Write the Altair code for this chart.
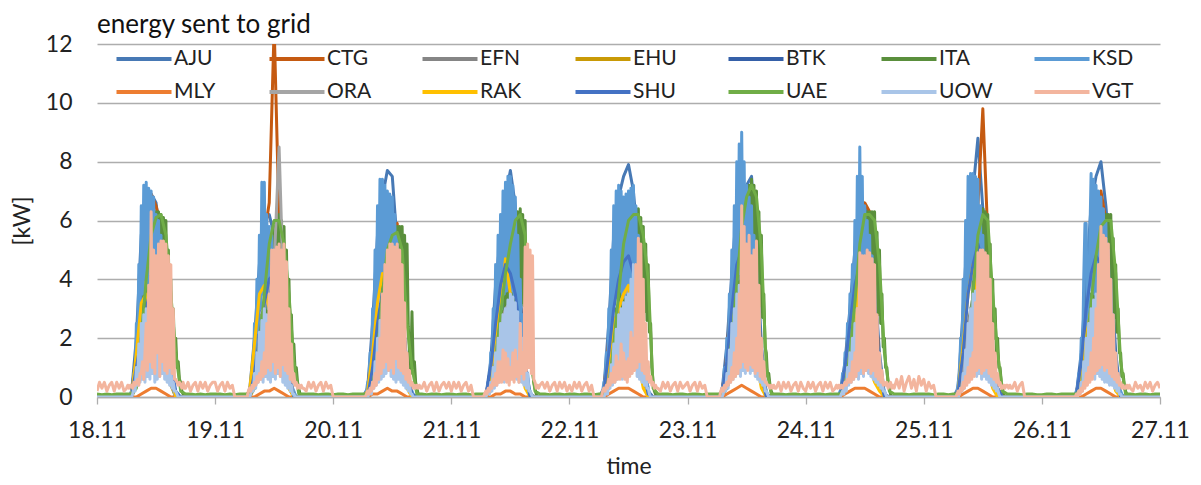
import altair as alt
import pandas as pd

FONT = "Lato"

# Series in legend / drawing order
names = ["AJU", "CTG", "EFN", "EHU", "BTK", "ITA", "KSD",
         "MLY", "ORA", "RAK", "SHU", "UAE", "UOW", "VGT"]
colors = ["#4779B5", "#C55A11", "#858585", "#C99A06", "#3560A8", "#5A8F3C", "#5B9BD5",
          "#ED7D31", "#A5A5A5", "#FFC000", "#4472C4", "#70AD47", "#A9C5E8", "#F3B59E"]

days = ["2019-11-18", "2019-11-19", "2019-11-20", "2019-11-21", "2019-11-22",
        "2019-11-23", "2019-11-24", "2019-11-25", "2019-11-26"]
tick_days = [18, 19, 20, 21, 22, 23, 24, 25, 26, 27]

# Daytime kW readings from 06:00 to 18:00, one string per day.
# 13 values = hourly, 49 values = every 15 minutes ("|" marks each hour).
AJU = ["0 0.1 2.0 5.5 6.8 6.9 6.6 5.2 2.0 0.5 0 0 0",
       "0 0.2 2.0 4.5 6.0 6.2 5.5 4.0 2.0 0.5 0 0 0",
       "0 0.3 2.5 5.5 6.8 7.7 7.5 5.2 3.0 1.0 0 0 0",
       "0 0 1.2 3.8 5.5 6.8 7.7 6.5 3.5 1.0 0 0 0",
       "0 0.3 2.5 5.5 6.8 7.5 7.9 7.0 5.0 1.8 0.2 0 0",
       "0 0.2 1.8 4.2 6.5 7.0 7.2 7.5 5.0 1.8 0.1 0 0",
       "0 0.1 1.2 3.0 5.0 6.8 6.5 6.0 4.0 1.5 0.1 0 0",
       "0 0.3 3.0 6.0 7.0 8.8 6.4 4.5 1.5 0.3 0 0 0",
       "0 0.1 1.5 4.0 6.5 7.5 8.0 6.5 4.5 1.5 0.1 0 0"]
CTG = ["0 0 1.2 4.5 6.0 6.9 6.5 5.8 3.0 0.8 0 0 0",
       "0 0.1 1.5 3.5 5.5 6.6 12.6 6.0 2.5 0.6 0 0 0",
       "0 0.2 2.0 4.0 5.5 6.5 5.8 5.9 3.0 0.8 0 0 0",
       "0 0 0.8 3.0 4.8 6.0 5.8 5.0 3.2 1.0 0 0 0",
       "0 0.2 2.0 4.5 5.8 6.2 6.0 5.5 3.5 1.0 0 0 0",
       "0 0.1 1.5 3.8 5.5 6.5 6.8 6.0 4.0 1.2 0 0 0",
       "0 0.1 1.0 2.8 4.5 5.8 6.6 6.3 3.5 1.2 0 0 0",
       "0 0.2 2.0 4.5 6.0 6.5 9.8 5.5 1.5 0.3 0 0 0",
       "0 0.1 1.0 3.0 5.0 6.2 7.0 6.0 3.5 1.0 0 0 0"]
EFN = ["0 0 0.8 2.0 3.0 3.5 3.5 3.0 2.0 0.8 0 0 0",
       "0 0 0.6 1.8 2.8 3.4 3.6 3.2 2.0 0.7 0 0 0",
       "0 0.1 1.0 2.4 3.4 3.8 3.6 3.0 1.8 0.6 0 0 0",
       "0 0 0.5 1.5 2.6 3.2 3.4 3.0 2.2 0.8 0 0 0",
       "0 0.1 0.9 2.2 3.2 3.7 3.8 3.3 2.3 0.9 0.1 0 0",
       "0 0.1 0.8 2.1 3.3 3.9 4.0 3.5 2.4 0.9 0 0 0",
       "0 0 0.6 1.6 2.8 3.4 3.6 3.2 2.2 0.8 0 0 0",
       "0 0.1 1.0 2.5 3.4 3.6 3.2 2.5 1.0 0.2 0 0 0",
       "0 0 0.7 1.9 3.0 3.5 3.6 3.1 2.0 0.7 0 0 0"]
EHU = ["0 0 0.4 1.2 2.0 2.4 2.4 2.0 1.2 0.4 0 0 0",
       "0 0 0.3 1.0 1.8 2.2 2.3 1.9 1.1 0.3 0 0 0",
       "0 0 0.5 1.3 2.1 2.5 2.4 2.0 1.2 0.4 0 0 0",
       "0 0 0.3 0.9 1.6 2.1 2.3 2.0 1.3 0.5 0 0 0",
       "0 0 0.4 1.2 2.0 2.5 2.6 2.2 1.4 0.5 0 0 0",
       "0 0 0.4 1.1 2.0 2.6 2.7 2.3 1.5 0.5 0 0 0",
       "0 0 0.3 1.0 1.8 2.3 2.4 2.1 1.3 0.4 0 0 0",
       "0 0 0.5 1.4 2.2 2.4 2.1 1.5 0.6 0.1 0 0 0",
       "0 0 0.3 1.0 1.9 2.3 2.4 2.0 1.2 0.4 0 0 0"]
BTK = ["0 0.1 1.5 3.5 5.0 5.5 5.2 4.5 3.0 1.0 0.1 0 0",
       "0 0.1 1.2 3.0 4.6 5.2 5.0 4.2 2.6 0.8 0 0 0",
       "0 0.2 1.8 3.8 5.2 5.8 5.5 4.6 3.0 1.0 0.1 0 0",
       "0 0 1.0 2.8 4.4 5.4 5.6 4.8 3.2 1.2 0.1 0 0",
       "0 0.2 1.6 3.6 5.0 5.8 6.0 5.2 3.6 1.4 0.1 0 0",
       "0 0.1 1.4 3.4 5.2 6.2 6.0 5.4 3.5 1.3 0.1 0 0",
       "0 0.1 1.0 2.6 4.2 5.4 5.6 5.0 3.2 1.1 0 0 0",
       "0 0.2 2.0 4.5 5.6 6.0 6.4 4.0 1.2 0.2 0 0 0",
       "0 0.1 1.2 3.2 5.0 5.8 6.0 5.0 4.5 1.0 0 0 0"]
ITA = ["0 0 0 0 | 0 0.1 0.2 0.3 | 0.5 0.4 1.5 0.9 | 2.5 1.4 3.5 2.0 | 4.5 2.4 5.3 2.8 | 6.0 3.0 6.2 3.2 | 6.3 3.2 6.3 3.1 | 6.2 3.0 6.1 3.1 | 6.0 3.0 5.0 2.6 | 4.0 2.0 3.0 1.5 | 2.0 1.0 1.2 0.6 | 0.5 0.2 0.1 0 | 0",
       "0 0 0 0 | 0 0.1 0.2 0.3 | 0.5 0.4 1.2 0.8 | 2.0 1.1 2.8 1.5 | 3.5 1.8 4.2 2.2 | 5.0 2.6 5.4 2.8 | 5.8 3.0 6.0 3.1 | 6.2 3.1 6.0 3.0 | 5.8 2.9 5.0 2.5 | 4.0 2.0 2.8 1.4 | 1.8 0.9 1.0 0.5 | 0.3 0.1 0 0 | 0",
       "0 0 0 0 | 0 0.1 0.2 0.3 | 0.5 0.4 1.2 0.8 | 2.0 1.1 3.0 1.6 | 3.8 2.0 4.4 2.3 | 5.0 2.6 5.2 2.7 | 5.5 2.8 5.7 2.9 | 5.8 2.9 5.8 2.9 | 5.8 2.9 5.5 2.7 | 5.2 2.4 1.5 0.8 | 2.9 1.0 1.2 0.5 | 0.3 0.1 0 0 | 0",
       "0 0 0 0 | 0 0.1 0.1 0.2 | 0.3 0.3 0.9 0.6 | 1.5 0.9 2.2 1.2 | 3.0 1.6 3.8 2.0 | 4.5 2.3 5.0 2.6 | 5.5 2.8 5.9 3.0 | 6.2 3.1 6.3 3.2 | 6.4 3.2 6.2 3.1 | 6.0 3.0 4.0 2.0 | 2.0 1.0 1.0 0.5 | 0.3 0.1 0 0 | 0",
       "0 0 0 0 | 0 0.1 0.2 0.3 | 0.5 0.4 1.2 0.8 | 2.0 1.1 3.0 1.6 | 3.8 2.0 4.6 2.4 | 5.5 2.8 5.9 3.0 | 6.2 3.1 6.3 3.2 | 6.3 3.2 6.4 3.2 | 6.4 3.2 6.1 3.0 | 5.8 2.9 5.2 2.6 | 4.5 2.2 2.5 1.0 | 0.5 0.2 0.1 0 | 0",
       "0 0 0 0 | 0 0.1 0.2 0.3 | 0.5 0.4 1.3 0.8 | 2.2 1.2 3.1 1.6 | 4.0 2.0 5.0 2.5 | 6.0 3.0 6.5 3.3 | 7.0 3.5 7.2 3.6 | 7.4 3.7 7.2 3.6 | 7.0 3.5 6.3 3.1 | 5.5 2.7 3.5 1.7 | 1.5 0.7 0.8 0.4 | 0.2 0.1 0 0 | 0",
       "0 0 0 0 | 0 0.1 0.2 0.3 | 0.4 0.4 1.1 0.7 | 1.8 1.0 2.6 1.4 | 3.5 1.8 4.5 2.3 | 5.5 2.8 5.9 3.0 | 6.3 3.2 6.3 3.2 | 6.3 3.2 6.3 3.1 | 6.3 3.1 5.6 2.8 | 5.0 2.5 3.5 1.7 | 2.0 1.0 1.0 0.5 | 0.3 0.1 0 0 | 0",
       "0 0 0 0 | 0 0.1 0.2 0.3 | 0.5 0.4 1.2 0.8 | 2.0 1.1 3.0 1.6 | 4.0 2.0 5.0 2.5 | 6.0 3.0 6.2 3.1 | 6.4 3.2 6.3 3.1 | 6.2 3.1 5.2 2.6 | 4.0 2.0 3.0 1.5 | 2.0 1.0 1.0 0.5 | 0.3 0.1 0 0 | 0 0 0 0 | 0",
       "0 0 0 0 | 0 0.1 0.2 0.3 | 0.4 0.4 1.1 0.7 | 1.8 1.0 2.6 1.4 | 3.5 1.8 4.2 2.2 | 5.0 2.5 5.5 2.8 | 6.0 3.0 6.1 3.1 | 6.2 3.1 6.2 3.1 | 6.2 3.1 5.4 2.7 | 4.5 2.2 3.0 1.5 | 1.5 0.7 0.8 0.4 | 0.2 0.1 0 0 | 0"]
KSD = ["0 0 0 0.1 | 0.2 0.3 0.8 0.5 | 2.5 1.5 4.5 2.5 | 6.5 3.5 7.2 4.0 | 7.3 3.8 7.1 4.2 | 7.0 3.5 6.8 3.2 | 6.2 3.0 6.0 2.8 | 5.5 2.5 4.0 1.8 | 2.5 1.2 1.5 0.8 | 0.8 0.4 0.3 0.1 | 0 0 0 0 | 0 0 0 0 | 0",
       "0 0 0 0.1 | 0.3 0.4 1.0 0.6 | 2.5 1.5 4.0 2.2 | 5.5 3.0 7.3 3.5 | 7.3 3.2 6.2 3.0 | 5.8 2.8 5.5 2.5 | 5.0 2.4 4.5 2.0 | 4.0 1.8 3.2 1.5 | 2.5 1.2 1.8 0.8 | 1.0 0.5 0.5 0.3 | 0.2 0.1 0 0 | 0 0 0 0 | 0",
       "0 0 0 0.2 | 0.5 0.6 1.5 0.8 | 3.0 1.8 5.0 2.8 | 6.5 3.5 7.4 4.0 | 7.4 3.8 7.2 4.0 | 7.0 3.6 6.9 3.5 | 6.8 3.4 6.2 3.0 | 5.5 2.6 4.5 2.0 | 3.5 1.6 2.2 1.0 | 1.2 0.6 0.6 0.3 | 0.2 0.1 0 0 | 0 0 0 0 | 0",
       "0 0 0 0 | 0 0.2 0.5 0.3 | 1.5 0.8 3.0 1.5 | 4.5 2.2 5.5 2.8 | 6.2 3.0 7.0 3.5 | 7.3 3.6 7.5 3.8 | 7.5 3.6 7.2 3.4 | 6.8 3.2 5.5 2.5 | 4.0 1.8 2.8 1.2 | 1.5 0.7 0.8 0.3 | 0.2 0.1 0 0 | 0 0 0 0 | 0",
       "0 0 0 0.2 | 0.5 0.6 1.5 0.8 | 3.0 1.8 5.0 2.8 | 6.5 3.4 7.0 3.8 | 7.2 3.6 7.0 3.5 | 6.8 3.4 6.9 3.5 | 7.0 3.6 7.1 3.5 | 7.2 3.4 6.5 3.0 | 5.5 2.6 3.8 1.8 | 2.0 1.0 1.0 0.5 | 0.3 0.1 0 0 | 0 0 0 0 | 0",
       "0 0 0 0.1 | 0.3 0.4 1.0 0.6 | 2.0 1.2 3.5 2.0 | 5.0 2.6 6.5 3.2 | 8.0 4.0 8.6 4.2 | 9.0 4.5 8.0 3.8 | 7.2 3.5 6.8 3.2 | 6.5 3.0 5.5 2.6 | 4.5 2.0 3.0 1.4 | 1.5 0.7 0.7 0.3 | 0.2 0.1 0 0 | 0 0 0 0 | 0",
       "0 0 0 0.1 | 0.2 0.3 0.8 0.5 | 1.5 0.9 2.5 1.4 | 3.5 1.8 4.5 2.4 | 6.0 3.0 7.5 3.6 | 8.5 4.0 7.5 3.6 | 6.5 3.2 6.0 2.9 | 5.5 2.6 4.8 2.2 | 3.8 1.8 2.6 1.2 | 1.5 0.7 0.6 0.3 | 0.2 0.1 0 0 | 0 0 0 0 | 0",
       "0 0 0 0.2 | 0.5 0.8 2.0 1.2 | 4.0 2.2 6.0 3.2 | 7.5 3.8 7.6 4.0 | 7.6 3.8 7.5 3.6 | 7.4 3.5 6.5 3.0 | 5.5 2.6 4.8 2.2 | 4.0 1.8 2.5 1.0 | 1.0 0.5 0.5 0.2 | 0.2 0.1 0 0 | 0 0 0 0 | 0 0 0 0 | 0",
       "0 0 0 0.1 | 0.2 0.3 0.8 0.5 | 2.0 1.2 4.0 5.9 | 5.9 2.0 3.0 5.5 | 7.6 3.6 7.4 3.5 | 7.2 3.4 7.0 3.3 | 6.8 3.2 6.4 3.0 | 6.0 2.8 5.0 2.2 | 4.0 1.8 2.8 1.2 | 1.5 0.7 0.6 0.3 | 0.2 0.1 0 0 | 0 0 0 0 | 0"]
MLY = ["0 0 0 0.1 0.2 0.3 0.3 0.2 0.1 0 0 0 0",
       "0 0 0 0.1 0.2 0.2 0.3 0.2 0.1 0 0 0 0",
       "0 0 0.1 0.1 0.2 0.3 0.2 0.2 0.1 0 0 0 0",
       "0 0 0 0.1 0.1 0.2 0.2 0.1 0.1 0 0 0 0",
       "0 0 0.1 0.2 0.3 0.3 0.3 0.2 0.1 0 0 0 0",
       "0 0 0.1 0.2 0.3 0.4 0.3 0.2 0.1 0 0 0 0",
       "0 0 0.1 0.2 0.3 0.3 0.3 0.2 0.1 0 0 0 0",
       "0 0 0.1 0.2 0.3 0.3 0.2 0.1 0 0 0 0 0",
       "0 0 0 0.1 0.2 0.3 0.3 0.2 0.1 0 0 0 0"]
ORA = ["0 0 0.5 1.8 2.8 3.2 3.2 2.8 1.8 0.6 0 0 0",
       "0 0 0.8 2.0 3.0 3.8 4.5 8.5 3.0 1.0 0 0 0",
       "0 0.1 0.9 2.2 3.2 3.6 3.4 2.8 1.6 0.5 0 0 0",
       "0 0 0.4 1.4 2.4 3.0 3.2 2.8 2.0 0.7 0 0 0",
       "0 0.1 0.8 2.0 3.0 3.5 3.6 3.1 2.1 0.8 0 0 0",
       "0 0.1 0.7 1.9 3.1 3.7 3.8 3.3 2.2 0.8 0 0 0",
       "0 0 0.5 1.5 2.6 3.2 3.4 3.0 2.0 0.7 0 0 0",
       "0 0.1 0.9 2.3 3.2 3.4 3.0 2.3 0.9 0.2 0 0 0",
       "0 0 0.6 1.8 2.8 3.3 3.4 2.9 1.9 0.6 0 0 0"]
RAK = ["0 0 1.5 3.2 3.5 2.5 1.8 2.2 3.0 1.0 0 0 0",
       "0 0.2 1.8 3.5 3.8 3.0 2.0 1.5 1.0 0.3 0 0 0",
       "0 0.2 1.5 3.2 4.2 3.5 2.5 2.0 1.0 0.3 0 0 0",
       "0 0 0.8 2.2 3.0 4.7 3.5 2.0 1.0 0.3 0 0 0",
       "0 0.2 1.2 2.5 3.0 3.5 3.8 2.5 1.2 0.3 0 0 0",
       "0 0.1 1.0 2.5 3.2 3.5 3.0 2.2 1.2 0.3 0 0 0",
       "0 0 0.5 1.2 2.0 4.3 1.5 1.0 0.5 0.2 0 0 0",
       "0 0.2 1.8 3.5 4.5 3.0 2.0 1.0 0.3 0 0 0 0",
       "0 0 0.8 2.0 3.0 3.2 2.5 1.5 0.8 0.2 0 0 0"]
SHU = ["0 0 1.0 2.0 3.0 3.8 4.0 3.5 2.5 1.2 0.2 0 0",
       "0 0 0.8 2.0 3.2 4.0 4.2 3.5 2.2 0.8 0 0 0",
       "0 0 1.0 2.5 3.6 4.2 4.5 4.0 2.5 1.0 0.1 0 0",
       "0 0 1.0 2.5 3.8 4.5 4.2 3.5 2.2 0.8 0 0 0",
       "0 0.2 1.5 3.0 4.0 4.6 4.8 4.2 2.8 1.0 0.1 0 0",
       "0 0.1 1.2 3.0 4.5 5.0 4.8 4.0 2.5 0.8 0 0 0",
       "0 0 1.0 2.5 3.8 4.5 4.5 3.8 2.5 0.8 0 0 0",
       "0 0.2 1.5 3.5 4.5 5.2 4.5 3.5 1.5 0.3 0 0 0",
       "0 0 1.2 3.0 4.2 4.8 4.5 3.8 2.2 0.7 0 0 0"]
UAE = ["0.1 0.1 0.3 2.0 4.0 5.5 6.1 6.2 5.5 3.5 1.5 0.2 0.1",
       "0.1 0.1 0.3 1.8 3.5 5.2 6.0 6.0 5.2 3.5 1.2 0.1 0.1",
       "0.1 0.1 0.3 1.5 3.5 5.0 5.5 5.6 5.0 2.5 1.0 0.1 0.1",
       "0.1 0.1 0.2 1.2 2.8 4.2 5.2 6.0 6.2 5.5 1.5 0.2 0.1",
       "0.1 0.1 0.3 1.8 3.5 5.2 6.0 6.2 6.2 5.5 4.0 0.3 0.1",
       "0.1 0.1 0.3 2.0 3.8 5.8 6.8 7.2 6.8 5.0 1.0 0.1 0.1",
       "0.1 0.1 0.3 1.5 3.2 5.2 6.2 6.2 6.0 4.5 1.5 0.2 0.1",
       "0.1 0.1 0.3 1.5 3.5 5.5 6.2 6.0 3.5 1.5 0.2 0.1 0.1",
       "0.1 0.1 0.3 1.5 3.2 4.8 5.8 6.0 6.0 4.2 1.2 0.1 0.1"]
UOW = ["0 0 0 0 | 0 0.1 0.3 0.2 | 1.0 0.4 1.8 0.5 | 2.5 0.6 2.8 0.5 | 3.0 0.7 3.3 0.6 | 3.5 0.8 3.0 0.5 | 2.8 0.6 3.5 0.7 | 3.8 0.8 3.2 0.6 | 2.5 0.5 1.8 0.4 | 1.0 0.3 0.5 0.2 | 0.2 0.1 0 0 | 0 0 0 0 | 0",
       "0 0 0 0 | 0 0.1 0.3 0.2 | 0.8 0.3 1.5 0.5 | 2.2 0.6 2.6 0.5 | 3.0 0.7 2.8 0.6 | 2.5 0.5 3.0 0.7 | 3.2 0.6 3.6 0.8 | 3.8 0.7 2.8 0.5 | 2.0 0.4 1.3 0.3 | 0.8 0.2 0.4 0.1 | 0.1 0 0 0 | 0 0 0 0 | 0",
       "0 0 0 0 | 0 0.1 0.2 0.1 | 0.5 0.3 1.2 0.4 | 2.0 0.5 2.6 0.6 | 3.2 0.7 3.8 0.8 | 4.0 0.9 3.6 0.7 | 3.5 0.6 3.0 0.5 | 2.8 0.6 2.4 0.5 | 2.0 0.4 1.4 0.3 | 0.8 0.2 0.4 0.1 | 0.1 0 0 0 | 0 0 0 0 | 0",
       "0 0 0 0 | 0 0.1 0.2 0.1 | 0.5 0.2 1.0 0.3 | 1.5 0.4 2.0 0.5 | 2.5 0.6 2.8 0.5 | 3.0 0.7 3.3 0.6 | 3.5 0.8 3.4 0.7 | 3.2 0.6 2.9 0.5 | 2.5 0.5 2.0 0.4 | 1.5 0.3 0.8 0.2 | 0.2 0.1 0 0 | 0 0 0 0 | 0",
       "0 0 0 0 | 0 0.1 0.2 0.1 | 0.5 0.3 1.1 0.4 | 1.8 0.5 2.3 0.6 | 2.8 0.7 3.0 0.6 | 3.2 0.8 3.4 0.7 | 3.5 0.8 4.0 0.9 | 4.5 1.0 3.8 0.7 | 3.0 0.6 2.2 0.5 | 1.5 0.4 0.8 0.3 | 0.3 0.1 0 0 | 0 0 0 0 | 0",
       "0 0 0 0 | 0 0.1 0.3 0.2 | 0.8 0.3 1.6 0.5 | 2.5 0.6 3.0 0.7 | 3.5 0.8 3.8 0.7 | 4.0 0.9 4.2 0.8 | 4.5 1.0 4.3 0.8 | 4.0 0.9 3.5 0.7 | 3.0 0.6 2.2 0.5 | 1.5 0.4 0.8 0.2 | 0.2 0.1 0 0 | 0 0 0 0 | 0",
       "0 0 0 0 | 0 0.1 0.2 0.1 | 0.5 0.2 1.0 0.4 | 1.5 0.5 2.0 0.6 | 2.5 0.7 3.0 0.6 | 3.5 0.8 3.8 0.7 | 4.0 0.9 3.8 0.8 | 3.5 0.7 3.0 0.6 | 2.5 0.5 1.8 0.4 | 1.2 0.3 0.6 0.2 | 0.2 0.1 0 0 | 0 0 0 0 | 0",
       "0 0 0 0 | 0 0.1 0.3 0.2 | 0.8 0.3 1.6 0.5 | 2.5 0.6 3.0 0.7 | 3.5 0.8 3.6 0.7 | 3.5 0.8 3.2 0.6 | 3.0 0.7 2.8 0.6 | 2.5 0.5 1.8 0.4 | 1.0 0.3 0.6 0.2 | 0.3 0.1 0 0 | 0 0 0 0 | 0 0 0 0 | 0",
       "0 0 0 0 | 0 0.1 0.2 0.1 | 0.5 0.2 1.2 0.4 | 2.0 0.5 2.5 0.6 | 3.0 0.7 3.3 0.6 | 3.5 0.8 3.2 0.7 | 3.0 0.6 2.8 0.5 | 2.5 0.5 2.2 0.4 | 1.8 0.4 1.3 0.3 | 0.8 0.2 0.4 0.1 | 0.1 0 0 0 | 0 0 0 0 | 0"]
VGT = ["0.3 0.4 0.3 0.4 | 0.4 0.3 0.5 0.4 | 0.5 0.6 0.4 0.8 | 0.8 1.2 0.6 1.5 | 2.5 0.9 3.8 1.2 | 6.3 1.0 5.0 0.8 | 4.8 1.5 5.2 0.7 | 5.3 1.2 5.3 0.9 | 5.2 0.8 4.8 1.0 | 4.5 0.8 3.0 0.6 | 0.6 0.5 0.4 0.5 | 0.4 0.3 0.5 0.3 | 0.3",
       "0 0 0 0.2 | 0.3 0.2 0.4 0.3 | 0.5 0.4 0.7 0.5 | 0.8 0.6 1.2 0.7 | 1.5 0.8 2.5 1.0 | 3.5 0.9 5.0 1.2 | 5.0 0.8 5.1 1.0 | 5.2 0.7 5.0 1.1 | 5.2 0.9 4.6 0.8 | 3.0 0.6 1.8 0.5 | 0.8 0.4 0.5 0.3 | 0.4 0.3 0.4 0.3 | 0.3",
       "0 0 0 0.1 | 0.2 0.1 0.3 0.2 | 0.5 0.3 0.8 0.4 | 1.5 0.6 2.0 0.8 | 3.5 1.0 4.5 1.2 | 5.0 0.9 5.2 1.0 | 5.2 0.8 5.1 1.3 | 5.2 1.0 5.0 0.9 | 4.5 0.8 3.2 0.6 | 1.5 0.5 0.9 0.4 | 0.5 0.3 0.4 0.3 | 0.4 0.3 0.4 0.3 | 0.3",
       "0 0 0 0.1 | 0.2 0.1 0.3 0.2 | 0.4 0.3 0.6 0.4 | 0.8 0.4 1.2 0.5 | 1.2 0.5 1.6 0.6 | 1.5 0.5 1.3 0.4 | 1.0 0.6 1.5 0.5 | 1.6 0.7 1.2 0.5 | 2.5 0.8 1.5 0.6 | 5.1 0.9 5.2 1.0 | 5.0 0.8 4.8 0.6 | 0.5 0.3 0.4 0.3 | 0.4",
       "0 0 0 0.2 | 0.3 0.2 0.4 0.3 | 0.6 0.4 0.8 0.5 | 1.0 0.5 1.4 0.6 | 1.2 0.6 1.8 0.7 | 1.5 0.6 1.2 0.5 | 1.3 0.7 2.2 0.8 | 2.0 0.9 4.5 1.0 | 5.4 1.2 5.2 0.9 | 4.0 0.8 2.5 0.6 | 1.2 0.5 0.7 0.4 | 0.5 0.3 0.4 0.3 | 0.3",
       "0 0 0 0.2 | 0.3 0.2 0.4 0.3 | 0.5 0.4 0.7 0.5 | 1.0 0.6 1.5 0.7 | 2.0 0.8 3.5 1.0 | 6.5 1.2 5.8 1.0 | 5.2 0.9 5.5 1.1 | 4.8 1.0 5.0 0.8 | 5.3 0.9 3.8 0.7 | 2.0 0.6 1.2 0.5 | 0.5 0.4 0.4 0.3 | 0.4 0.3 0.4 0.3 | 0.3",
       "0.3 0.4 0.3 0.4 | 0.3 0.4 0.3 0.4 | 0.5 0.4 0.6 0.5 | 0.8 0.5 1.2 0.6 | 1.5 0.7 3.0 0.9 | 4.9 1.0 4.8 0.8 | 4.8 0.9 5.0 1.0 | 4.9 0.8 4.7 0.9 | 4.5 0.7 2.8 0.6 | 1.5 0.5 0.9 0.4 | 0.5 0.4 0.5 0.3 | 0.4 0.5 0.3 0.4 | 0.3",
       "0 0 0 0.1 | 0.2 0.1 0.3 0.2 | 0.5 0.3 0.7 0.4 | 1.0 0.5 1.3 0.6 | 1.5 0.7 3.2 0.9 | 4.9 1.0 5.0 0.8 | 5.0 0.9 4.9 1.0 | 4.8 0.8 4.0 0.7 | 2.5 0.6 1.5 0.5 | 0.8 0.4 0.5 0.3 | 0.3 0.4 0.3 0.4 | 0.4 0.3 0.4 0.3 | 0.3",
       "0 0 0 0 | 0.1 0 0.2 0.1 | 0.3 0.2 0.5 0.3 | 0.8 0.4 1.0 0.5 | 1.5 0.6 2.0 0.8 | 3.0 0.9 4.5 1.0 | 5.8 1.1 5.5 0.9 | 5.4 1.0 5.2 0.8 | 4.0 0.7 2.8 0.6 | 1.5 0.5 0.8 0.4 | 0.5 0.3 0.4 0.3 | 0.3 0.4 0.3 0.4 | 0.3"]

# Night readings, "before 06:00 | after 18:00", evenly spaced in each window
UAE_NIGHT = ["0.1 0.08 0.1 0.08 0.1 0.1 | 0.1 0.08 0.1 0.08 0.1",
             "0.1 0.1 0.08 0.1 0.08 0.1 | 0.1 0.1 0.08 0.1 0.1",
             "0.08 0.1 0.1 0.08 0.1 0.1 | 0.08 0.1 0.1 0.08 0.1",
             "0.1 0.08 0.1 0.1 0.08 0.1 | 0.1 0.08 0.1 0.1 0.08",
             "0.1 0.1 0.08 0.1 0.1 0.08 | 0.1 0.1 0.08 0.1 0.1",
             "0.08 0.1 0.1 0.08 0.1 0.1 | 0.1 0.08 0.1 0.1 0.08",
             "0.1 0.08 0.1 0.1 0.08 0.1 | 0.1 0.1 0.08 0.1 0.1",
             "0.1 0.1 0.08 0.1 0.1 0.08 | 0.1 0.08 0.1 0.1 0.08",
             "0.08 0.1 0.1 0.08 0.1 0.1 | 0.08 0.1 0.1 0.08 0.1"]
VGT_NIGHT = ["0.2 0.5 0.3 0.5 0.2 0.4 0.5 0.2 0.5 0.3 0.5 0.2 | 0.5 0.2 0.4 0.5 0.2 0.5 0.3 0.5 0.2 0.4 0.5",
             "0.5 0.2 0.4 0.5 0.2 0.5 0.3 0.4 0 0 0 0 | 0.2 0.5 0.3 0.5 0.2 0.4 0.5 0.2 0.5 0.3 0.4",
             "0 0 0 0 0 0 0 0 0 0 0 0 | 0.5 0.2 0.4 0.5 0.2 0.5 0.2 0.4 0.5 0.3 0.5",
             "0.2 0.5 0.3 0.5 0.2 0.4 0.5 0.2 0.4 0 0 0 | 0.5 0.3 0.5 0.2 0.4 0.5 0.2 0.5 0.3 0.5 0.2",
             "0.4 0.2 0.5 0.3 0.5 0.2 0.4 0.5 0.2 0.4 0 0 | 0.2 0.5 0.3 0.5 0.2 0.4 0.5 0.2 0.5 0.3 0.4",
             "0.5 0.2 0.4 0.5 0.2 0.5 0.3 0.4 0 0 0 0 | 0.5 0.2 0.5 0.3 0.5 0.2 0.4 0.5 0.2 0.5 0.3",
             "0.2 0.5 0.3 0.5 0.2 0.4 0.5 0.2 0.5 0.3 0.5 0.2 | 0.6 0.3 0.7 0.2 0.5 0.7 0.3 0.6 0.2 0.7 0.4",
             "0.6 0.2 0.5 0.3 0.4 0 0 0 0 0 0 0 | 0.5 0.2 0.4 0.5 0 0 0 0 0 0 0",
             "0 0 0 0 0 0 0 0 0 0 0 0 | 0.2 0.5 0.3 0.4 0.2 0.5 0.3 0.5 0.2 0.4 0.5"]

# Reading at 27.11 00:00 for each series
final_values = [0, 0, 0, 0, 0, 0, 0, 0, 0, 0, 0, 0.1, 0, 0.3]

day_series = [AJU, CTG, EFN, EHU, BTK, ITA, KSD, MLY, ORA, RAK, SHU, UAE, UOW, VGT]
night_series = {"UAE": UAE_NIGHT, "VGT": VGT_NIGHT}

rows = []


def add(name, t, v):
    rows.append({"time": t, "series": name, "kW": float(v)})


for name, daily, last in zip(names, day_series, final_values):
    nights = night_series.get(name)
    for d, day in enumerate(days):
        base = pd.Timestamp(day)
        if nights:
            morning, evening = [part.split() for part in nights[d].split("|")]
        else:
            morning, evening = ["0"] * 6, ["0"] * 5
        for i, v in enumerate(morning):
            add(name, base + pd.Timedelta(minutes=i * 360 / len(morning)), v)
        vals = daily[d].replace("|", " ").split()
        step = 720 / (len(vals) - 1)
        for i, v in enumerate(vals):
            add(name, base + pd.Timedelta(minutes=360 + i * step), v)
        for i, v in enumerate(evening):
            add(name, base + pd.Timedelta(minutes=1080 + (i + 1) * 360 / (len(evening) + 1)), v)
    add(name, pd.Timestamp("2019-11-27"), last)

df = pd.DataFrame(rows)
df["time"] = df["time"].dt.strftime("%Y-%m-%dT%H:%M:%S")

x_ticks = [alt.DateTime(year=2019, month=11, date=d) for d in tick_days]

# Legend key: a long horizontal stroke drawn from a compact symbol box
legend_key = "M-2.5,0H2.5"

chart = alt.Chart(df).mark_line(strokeWidth=3, clip=True, strokeJoin="round").encode(
    x=alt.X("time:T",
            scale=alt.Scale(domain=[x_ticks[0], x_ticks[-1]]),
            axis=alt.Axis(values=x_ticks, format="%d.%m", title="time",
                          grid=False, tickSize=7, labelPadding=15, titlePadding=13,
                          labelFlush=False, labelOverlap=False)),
    y=alt.Y("kW:Q",
            scale=alt.Scale(domain=[0, 12], nice=False),
            axis=alt.Axis(values=[0, 2, 4, 6, 8, 10, 12], title="[kW]",
                          ticks=False, domain=False, labelPadding=25, titlePadding=11)),
    color=alt.Color("series:N",
                    scale=alt.Scale(domain=names, range=colors),
                    legend=alt.Legend(orient="none", legendX=18, legendY=2,
                                      direction="horizontal", columns=7,
                                      symbolType=legend_key, symbolSize=484,
                                      symbolStrokeWidth=4, symbolOffset=16,
                                      labelFontSize=21, labelFont=FONT,
                                      labelColor="#222222", labelOffset=17,
                                      columnPadding=33, rowPadding=10,
                                      gridAlign="all", padding=0, title=None)),
).properties(
    width=1063,
    height=353,
    title=alt.TitleParams("energy sent to grid", anchor="start", fontSize=26,
                          font=FONT, fontWeight="normal", color="#111111",
                          offset=-5, frame="group"),
    autosize=alt.AutoSizeParams(type="none"),
    padding={"left": 97, "top": 44, "right": 41, "bottom": 88},
).configure_axis(
    labelFont=FONT, labelFontSize=23, labelColor="#222222",
    titleFont=FONT, titleFontSize=23, titleFontWeight="normal", titleColor="#222222",
    gridColor="#ADADAD", gridWidth=1.3, domainColor="#ADADAD", domainWidth=1.3,
    tickColor="#ADADAD", tickWidth=1.3,
).configure_view(stroke=None)

chart.save("out.html", embed_options={"renderer": "svg", "actions": False})
